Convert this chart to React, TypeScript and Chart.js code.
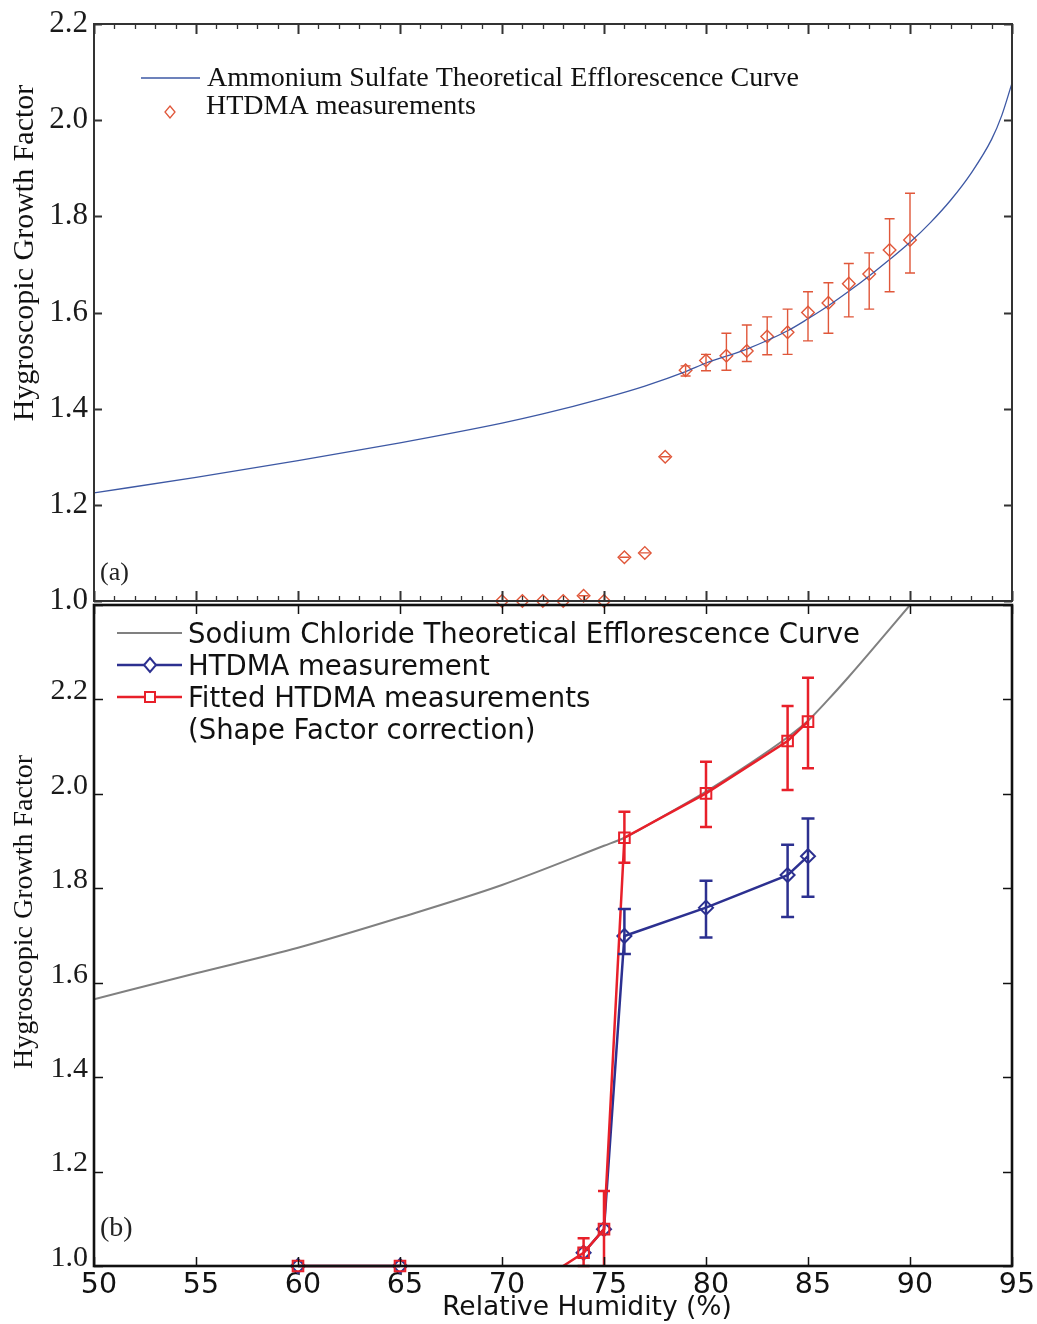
import { useEffect, useRef } from "react";
import { Chart, registerables } from "chart.js";

Chart.register(...registerables);

// ---------------- shared axis ----------------
const RH_MIN = 50;
const RH_MAX = 95;
const RH_MAJOR = 5;
const RH_MINOR = 1;

// ---------------- panel (a): ammonium sulfate ----------------
const AS_CURVE_LABEL = "Ammonium Sulfate Theoretical Efflorescence Curve";
const AS_CURVE_RH = [50, 55, 60, 65, 70, 72, 75, 77, 79, 80, 82, 84, 85, 86, 87, 88, 89, 90, 91, 92, 93, 94, 94.5, 95];
const AS_CURVE_GF = [1.225, 1.257, 1.292, 1.329, 1.37, 1.389, 1.422, 1.447, 1.477, 1.495, 1.524, 1.562, 1.587, 1.614, 1.644, 1.676, 1.71, 1.746, 1.787, 1.834, 1.89, 1.96, 2.01, 2.077];

const AS_MEAS_LABEL = "HTDMA measurements";
const AS_MEAS_RH = [70, 71, 72, 73, 74, 75, 76, 77, 78, 79, 80, 81, 82, 83, 84, 85, 86, 87, 88, 89, 90];
const AS_MEAS_GF = [1.0, 1.0, 1.0, 1.0, 1.011, 1.0, 1.091, 1.1, 1.3, 1.48, 1.5, 1.51, 1.52, 1.55, 1.559, 1.6, 1.62, 1.66, 1.68, 1.73, 1.751];
const AS_MEAS_UP = [1.0, 1.0, 1.0, 1.0, 1.011, 1.0, 1.091, 1.1, 1.3, 1.489, 1.513, 1.557, 1.574, 1.591, 1.607, 1.643, 1.662, 1.702, 1.724, 1.795, 1.848];
const AS_MEAS_LO = [1.0, 1.0, 1.0, 1.0, 1.0, 1.0, 1.091, 1.1, 1.3, 1.468, 1.479, 1.48, 1.498, 1.512, 1.513, 1.541, 1.557, 1.591, 1.607, 1.643, 1.682];

const A_Y_MIN = 1.0;
const A_Y_MAX = 2.2;
const A_Y_STEP = 0.2;

// ---------------- panel (b): sodium chloride ----------------
const NACL_LABEL = "Sodium Chloride Theoretical Efflorescence Curve";
const NACL_RH = [50, 55, 60, 65, 70, 75, 76, 78, 80, 82, 84, 85, 86, 87, 88, 89, 90];
const NACL_GF = [1.565, 1.62, 1.674, 1.738, 1.807, 1.89, 1.907, 1.955, 2.005, 2.06, 2.12, 2.155, 2.2, 2.248, 2.298, 2.349, 2.4];

const BLUE_LABEL = "HTDMA measurement";
const BLUE_RH = [60, 65, 69, 74, 75, 76, 80, 84, 85];
const BLUE_GF = [1.0, 1.0, null, 1.028, 1.078, 1.699, 1.759, 1.828, 1.868];
const BLUE_UP = [null, null, null, null, null, 1.756, 1.816, 1.892, 1.948];
const BLUE_LO = [null, null, null, null, null, 1.661, 1.696, 1.739, 1.782];

const RED_LABEL = "Fitted HTDMA measurements\n(Shape Factor correction)";
const RED_RH = [60, 65, 67, 70, 72, 73, 74, 75, 76, 80, 84, 85];
const RED_GF = [1.0, 1.0, null, 1.0, null, 1.0, 1.028, 1.078, 1.907, 2.001, 2.112, 2.153];
const RED_UP = [null, null, null, null, null, null, 1.059, 1.159, 1.962, 2.068, 2.186, 2.246];
const RED_LO = [null, null, null, null, null, null, 1.0, 0.98, 1.854, 1.93, 2.008, 2.054];
const RED_MARKERS = ["rect", "rect", "rect", "line", "rect", "line", "rect", "rect", "rect", "rect", "rect", "rect"];

const B_Y_MIN = 1.0;
const B_Y_MAX = 2.4;
const B_Y_STEP = 0.2;

const Y_TITLE = "Hygroscopic Growth Factor";
const X_TITLE = "Relative Humidity (%)";

// ---------------- styling ----------------
const SERIF = '"Liberation Serif", "DejaVu Serif", serif';
const SANS = '"DejaVu Sans", "Open Sans", sans-serif';
const AS_LINE_COLOR = "#3d58a4";
const AS_MARK_COLOR = "#e0573a";
const NACL_COLOR = "#808080";
const BLUE_COLOR = "#2c3090";
const RED_COLOR = "#e8202a";

const TOP_CANVAS_H = 620;
const BOTTOM_CANVAS_TOP = 590;
const BOTTOM_CANVAS_H = 1324 - BOTTOM_CANVAS_TOP;

const pts = (xs: number[], ys: (number | null)[]) => xs.map((x, i) => ({ x, y: ys[i] }));

function diamond(ctx: CanvasRenderingContext2D, x: number, y: number, rx: number, ry: number) {
  ctx.beginPath();
  ctx.moveTo(x, y - ry);
  ctx.lineTo(x + rx, y);
  ctx.lineTo(x, y + ry);
  ctx.lineTo(x - rx, y);
  ctx.closePath();
}

function text(
  ctx: CanvasRenderingContext2D,
  s: string,
  x: number,
  y: number,
  font: string,
  color: string,
  align: CanvasTextAlign = "left",
  baseline: CanvasTextBaseline = "alphabetic",
  rotate = 0
) {
  ctx.save();
  ctx.font = font;
  ctx.fillStyle = color;
  ctx.textAlign = align;
  ctx.textBaseline = baseline;
  ctx.translate(x, y);
  if (rotate) ctx.rotate(rotate);
  ctx.fillText(s, 0, 0);
  ctx.restore();
}

function drawFrameAndTicks(
  chart: any,
  o: { color: string; width: number; xMajorLen: number; xMinorLen: number; xMinor: boolean; yLen: number; tickWidth: number; minorWidth: number }
) {
  const ctx: CanvasRenderingContext2D = chart.ctx;
  const { left, right, top, bottom } = chart.chartArea;
  const xs = chart.scales.x;
  const ys = chart.scales.y;
  ctx.save();
  ctx.strokeStyle = o.color;
  const nMinor = Math.round((RH_MAX - RH_MIN) / RH_MINOR);
  for (let i = 0; i <= nMinor; i++) {
    const v = RH_MIN + i * RH_MINOR;
    const isMajor = Math.abs(v / RH_MAJOR - Math.round(v / RH_MAJOR)) < 1e-6;
    if (!isMajor && !o.xMinor) continue;
    const len = isMajor ? o.xMajorLen : o.xMinorLen;
    const px = Math.round(xs.getPixelForValue(v)) + 0.5;
    ctx.lineWidth = isMajor ? o.tickWidth : o.minorWidth;
    ctx.beginPath();
    ctx.moveTo(px, bottom);
    ctx.lineTo(px, bottom - len);
    ctx.moveTo(px, top);
    ctx.lineTo(px, top + len);
    ctx.stroke();
  }
  ctx.lineWidth = o.tickWidth;
  for (const t of ys.ticks) {
    const py = Math.round(ys.getPixelForValue(t.value)) + 0.5;
    ctx.beginPath();
    ctx.moveTo(left, py);
    ctx.lineTo(left + o.yLen, py);
    ctx.moveTo(right, py);
    ctx.lineTo(right - o.yLen, py);
    ctx.stroke();
  }
  ctx.lineWidth = o.width;
  ctx.strokeRect(left, top, right - left, bottom - top);
  ctx.restore();
}

function drawErrorBars(
  chart: any,
  dsIndex: number,
  up: (number | null)[],
  lo: (number | null)[],
  color: string,
  width: number,
  cap: number
) {
  const ctx: CanvasRenderingContext2D = chart.ctx;
  const xs = chart.scales.x;
  const ys = chart.scales.y;
  const data = chart.data.datasets[dsIndex].data as { x: number; y: number | null }[];
  const { bottom } = chart.chartArea;
  ctx.save();
  ctx.strokeStyle = color;
  ctx.lineWidth = width;
  data.forEach((p, i) => {
    const u = up[i];
    const l = lo[i];
    if (u == null || l == null || p.y == null) return;
    const px = xs.getPixelForValue(p.x);
    const pu = ys.getPixelForValue(u);
    const plRaw = ys.getPixelForValue(l);
    const pl = Math.min(plRaw, bottom);
    ctx.beginPath();
    ctx.moveTo(px, pu);
    ctx.lineTo(px, pl);
    ctx.moveTo(px - cap / 2, pu);
    ctx.lineTo(px + cap / 2, pu);
    if (plRaw <= bottom) {
      ctx.moveTo(px - cap / 2, pl);
      ctx.lineTo(px + cap / 2, pl);
    }
    ctx.stroke();
  });
  ctx.restore();
}

const decorA = {
  id: "decorA",
  afterDatasetsDraw(chart: any) {
    drawErrorBars(chart, 1, AS_MEAS_UP, AS_MEAS_LO, AS_MARK_COLOR, 1.4, 10);
  },
  afterDraw(chart: any) {
    const ctx: CanvasRenderingContext2D = chart.ctx;
    drawFrameAndTicks(chart, { color: "#333", width: 2, xMajorLen: 10, xMinorLen: 5, xMinor: true, yLen: 8, tickWidth: 2, minorWidth: 1.3 });
    const ds = chart.data.datasets;
    ctx.save();
    ctx.strokeStyle = AS_LINE_COLOR;
    ctx.lineWidth = 1.3;
    ctx.beginPath();
    ctx.moveTo(141, 78);
    ctx.lineTo(200, 78);
    ctx.stroke();
    ctx.strokeStyle = AS_MARK_COLOR;
    ctx.lineWidth = 1.3;
    diamond(ctx, 170, 112, 5, 6);
    ctx.stroke();
    ctx.restore();
    text(ctx, ds[0].label, 207, 86, `28px ${SERIF}`, "#111");
    text(ctx, ds[1].label, 206, 114, `28px ${SERIF}`, "#111");
    text(ctx, "(a)", 100, 580, `26px ${SERIF}`, "#222");
    text(ctx, Y_TITLE, 25, 253, `30px ${SERIF}`, "#111", "center", "middle", -Math.PI / 2);
  },
};

const decorB = {
  id: "decorB",
  afterDatasetsDraw(chart: any) {
    drawErrorBars(chart, 1, BLUE_UP, BLUE_LO, BLUE_COLOR, 2.5, 13);
    drawErrorBars(chart, 0, RED_UP, RED_LO, RED_COLOR, 2.5, 12);
  },
  afterDraw(chart: any) {
    const ctx: CanvasRenderingContext2D = chart.ctx;
    const off = BOTTOM_CANVAS_TOP;
    drawFrameAndTicks(chart, { color: "#111", width: 2.6, xMajorLen: 9, xMinorLen: 0, xMinor: false, yLen: 9, tickWidth: 1.5, minorWidth: 1 });
    const ds = chart.data.datasets;
    const entries: [number, number, string, string][] = [
      [2, 633, "", NACL_COLOR],
      [1, 665, "diamond", BLUE_COLOR],
      [0, 697, "square", RED_COLOR],
    ];
    ctx.save();
    for (const [di, ly, mk, col] of entries) {
      const y = ly - off;
      ctx.strokeStyle = col;
      ctx.lineWidth = di === 2 ? 2 : 2.5;
      ctx.beginPath();
      ctx.moveTo(117, y);
      ctx.lineTo(182, y);
      ctx.stroke();
      ctx.lineWidth = 2;
      if (mk === "diamond") {
        ctx.fillStyle = "#fff";
        diamond(ctx, 150, y, 6, 7);
        ctx.fill();
        ctx.stroke();
      } else if (mk === "square") {
        ctx.fillStyle = "#fff";
        ctx.fillRect(145, y - 5, 10, 10);
        ctx.strokeRect(145, y - 5, 10, 10);
      }
      const lines = String(ds[di].label).split("\n");
      lines.forEach((s, k) => {
        text(ctx, s, 188, y + 10 + k * 32, `27.5px ${SANS}`, "#111");
      });
    }
    ctx.restore();
    text(ctx, "(b)", 100, 1236 - off, `28px ${SERIF}`, "#222");
    text(ctx, Y_TITLE, 25, 912 - off, `28px ${SERIF}`, "#111", "center", "middle", -Math.PI / 2);
    text(ctx, X_TITLE, 587, 1315 - off, `26.5px ${SANS}`, "#111", "center", "alphabetic");
  },
};

export default function App() {
  const topRef = useRef<HTMLCanvasElement | null>(null);
  const botRef = useRef<HTMLCanvasElement | null>(null);

  useEffect(() => {
    if (!topRef.current || !botRef.current) return;
    const fmt = (v: any) => Number(v).toFixed(1);

    const top = new Chart(topRef.current, {
      type: "line",
      data: {
        datasets: [
          {
            label: AS_CURVE_LABEL,
            data: pts(AS_CURVE_RH, AS_CURVE_GF),
            borderColor: AS_LINE_COLOR,
            borderWidth: 1.3,
            pointRadius: 0,
            cubicInterpolationMode: "monotone",
            fill: false,
          },
          {
            label: AS_MEAS_LABEL,
            data: pts(AS_MEAS_RH, AS_MEAS_GF),
            showLine: false,
            pointStyle: "rectRot",
            pointRadius: 6.3,
            pointBorderWidth: 1.4,
            borderColor: AS_MARK_COLOR,
            backgroundColor: "rgba(0,0,0,0)",
            clip: false,
          },
        ],
      } as any,
      options: {
        animation: false,
        responsive: false,
        events: [],
        layout: { padding: { left: 0, top: 24, right: 25, bottom: TOP_CANVAS_H - 601 } },
        plugins: { legend: { display: false }, tooltip: { enabled: false } },
        scales: {
          x: { type: "linear", min: RH_MIN, max: RH_MAX, display: false },
          y: {
            type: "linear",
            min: A_Y_MIN,
            max: A_Y_MAX,
            afterFit: (s: any) => {
              s.width = 94;
              s.paddingTop = 0;
              s.paddingBottom = 0;
            },
            ticks: { stepSize: A_Y_STEP, callback: fmt, font: { family: SERIF, size: 31 }, color: "#1a1a1a", padding: 6 },
            grid: { display: false, drawTicks: false },
            border: { display: false },
          },
        },
      } as any,
      plugins: [decorA],
    });

    const bottom = new Chart(botRef.current, {
      type: "line",
      data: {
        datasets: [
          {
            label: RED_LABEL,
            data: pts(RED_RH, RED_GF),
            borderColor: RED_COLOR,
            backgroundColor: "rgba(0,0,0,0)",
            borderWidth: 2.5,
            pointStyle: RED_MARKERS,
            pointRadius: 7.5,
            pointBorderWidth: 2,
            spanGaps: false,
            clip: false,
            order: 0,
          },
          {
            label: BLUE_LABEL,
            data: pts(BLUE_RH, BLUE_GF),
            borderColor: BLUE_COLOR,
            backgroundColor: "rgba(0,0,0,0)",
            borderWidth: 2.5,
            pointStyle: "rectRot",
            pointRadius: 7,
            pointBorderWidth: 2,
            spanGaps: false,
            clip: false,
            order: 1,
          },
          {
            label: NACL_LABEL,
            data: pts(NACL_RH, NACL_GF),
            borderColor: NACL_COLOR,
            borderWidth: 2,
            pointRadius: 0,
            cubicInterpolationMode: "monotone",
            fill: false,
            order: 2,
          },
        ],
      } as any,
      options: {
        animation: false,
        responsive: false,
        events: [],
        layout: { padding: { left: 0, top: 605 - BOTTOM_CANVAS_TOP, right: 25, bottom: 0 } },
        plugins: { legend: { display: false }, tooltip: { enabled: false } },
        scales: {
          x: {
            type: "linear",
            min: RH_MIN,
            max: RH_MAX,
            afterFit: (s: any) => {
              s.height = 1324 - 1266;
              s.paddingLeft = 0;
              s.paddingRight = 0;
            },
            ticks: {
              stepSize: RH_MAJOR,
              autoSkip: false,
              maxRotation: 0,
              font: { family: SANS, size: 28.5 },
              color: "#111",
              padding: 2,
              labelOffset: 5,
            },
            grid: { display: false, drawTicks: false },
            border: { display: false },
          },
          y: {
            type: "linear",
            min: B_Y_MIN,
            max: B_Y_MAX,
            afterFit: (s: any) => {
              s.width = 94;
              s.paddingTop = 0;
              s.paddingBottom = 0;
            },
            ticks: {
              stepSize: B_Y_STEP,
              callback: (v: any) => (Number(v) > B_Y_MAX - 0.1 ? "" : fmt(v)),
              font: { family: SERIF, size: 30 },
              color: "#1a1a1a",
              padding: 6,
              labelOffset: -8,
            },
            grid: { display: false, drawTicks: false },
            border: { display: false },
          },
        },
      } as any,
      plugins: [decorB],
    });

    return () => {
      top.destroy();
      bottom.destroy();
    };
  }, []);

  return (
    <div style={{ position: "absolute", left: 0, top: 0, width: 1037, height: 1324, background: "#fff" }}>
      <canvas
        ref={topRef}
        width={1037}
        height={TOP_CANVAS_H}
        style={{ position: "absolute", left: 0, top: 0, width: 1037, height: TOP_CANVAS_H }}
      />
      <canvas
        ref={botRef}
        width={1037}
        height={BOTTOM_CANVAS_H}
        style={{ position: "absolute", left: 0, top: BOTTOM_CANVAS_TOP, width: 1037, height: BOTTOM_CANVAS_H }}
      />
    </div>
  );
}
